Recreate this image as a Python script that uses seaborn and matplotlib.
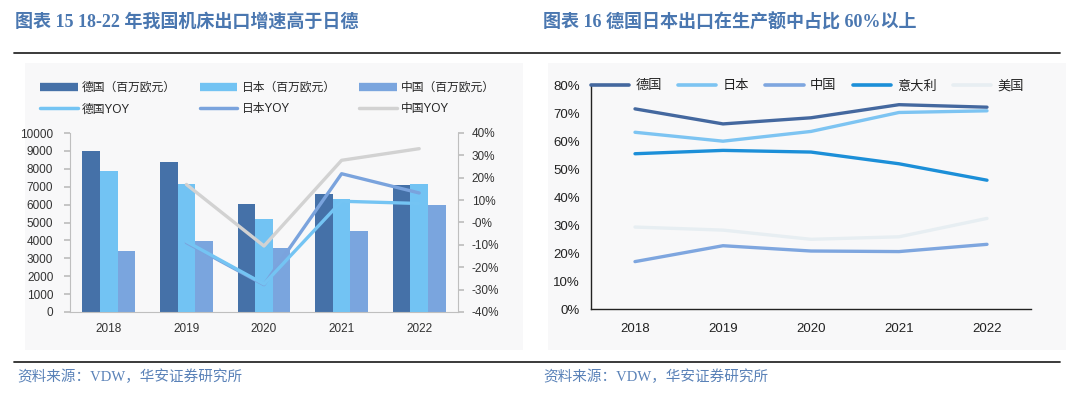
import numpy as np
import pandas as pd
import matplotlib
matplotlib.use("Agg")
import matplotlib.pyplot as plt
from matplotlib.lines import Line2D
from matplotlib.ticker import PercentFormatter, FixedLocator
import seaborn as sns

# ---------------- data ----------------
years = ["2018", "2019", "2020", "2021", "2022"]

# left chart: export value (million EUR)
exp_de = [8990, 8380, 6020, 6580, 7120]
exp_jp = [7880, 7170, 5220, 6340, 7170]
exp_cn = [3400, 3940, 3550, 4520, 6000]
bar_labels = ["德国（百万欧元）", "日本（百万欧元）", "中国（百万欧元）"]

# YOY (2019-2022)
yoy_years = ["2019", "2020", "2021", "2022"]
yoy_de = [-0.085, -0.275, 0.095, 0.085]
yoy_jp = [-0.090, -0.278, 0.218, 0.132]
yoy_cn = [0.170, -0.105, 0.278, 0.330]
line_labels = ["德国YOY", "日本YOY", "中国YOY"]

# right chart: export share of production
share_de = [0.718, 0.664, 0.686, 0.733, 0.724]
share_jp = [0.634, 0.602, 0.637, 0.705, 0.711]
share_cn = [0.170, 0.227, 0.208, 0.206, 0.232]
share_it = [0.557, 0.569, 0.563, 0.521, 0.462]
share_us = [0.294, 0.283, 0.250, 0.259, 0.325]
share_names = ["德国", "日本", "中国", "意大利", "美国"]

title_left = "图表 15 18-22 年我国机床出口增速高于日德"
title_right = "图表 16 德国日本出口在生产额中占比 60%以上"
source_text = "资料来源：VDW，华安证券研究所"

# ---------------- style ----------------
sns.set_theme(style="white")
plt.rcParams["font.family"] = ["Liberation Sans", "Noto Sans CJK SC", "DejaVu Sans"]
plt.rcParams["axes.unicode_minus"] = False

W, H = 1080, 396
fig = plt.figure(figsize=(W / 100, H / 100), dpi=100, facecolor="white")


def rect(x0, y0, x1, y1):
    return [x0 / W, 1 - y1 / H, (x1 - x0) / W, (y1 - y0) / H]


serif_cjk = ["Liberation Serif", "Noto Sans CJK SC"]
title_color = "#4A77B0"

# background boxes
for (x0, x1) in [(25, 523), (548, 1066)]:
    bg = fig.add_axes(rect(x0, 63, x1, 350), zorder=0)
    bg.set_facecolor("#F8F8F9")
    bg.set_xticks([]); bg.set_yticks([])
    for s in bg.spines.values():
        s.set_visible(False)

# separator lines
for y in (53, 362):
    fig.add_artist(Line2D([14 / W, 1060 / W], [1 - y / H, 1 - y / H],
                          color="#2b2b2b", lw=1.3))

fig.text(15 / W, 1 - 22 / H, title_left, fontsize=13, color=title_color,
         family=serif_cjk, fontweight="bold", va="center", ha="left")
fig.text(543 / W, 1 - 22 / H, title_right, fontsize=13, color=title_color,
         family=serif_cjk, fontweight="bold", va="center", ha="left")
fig.text(17 / W, 1 - 377 / H, source_text, fontsize=10.5, color="#5A82B8",
         family=serif_cjk, va="center", ha="left")
fig.text(543 / W, 1 - 377 / H, source_text, fontsize=10.5, color="#5A82B8",
         family=serif_cjk, va="center", ha="left")

# ---------------- left chart ----------------
c_de, c_jp, c_cn = "#4571A8", "#72C3F3", "#7AA5DE"
l_de, l_jp, l_cn = "#74C4F3", "#7AA3DD", "#D2D2D2"
gray = "#BFBFBF"

axL = fig.add_axes(rect(70, 133, 458, 312), zorder=2)
axL.patch.set_alpha(0)
bars = pd.DataFrame({
    "year": years * 3,
    "value": exp_de + exp_jp + exp_cn,
    "series": [bar_labels[0]] * 5 + [bar_labels[1]] * 5 + [bar_labels[2]] * 5,
})
sns.barplot(data=bars, x="year", y="value", hue="series", hue_order=bar_labels,
            palette=[c_de, c_jp, c_cn], width=0.68, gap=0, saturation=1,
            ax=axL, legend=False, edgecolor="none")
# put 日本 bars on top
for p in axL.patches[5:10]:
    p.set_zorder(3)
axL.set_ylim(0, 10000)
axL.set_yticks(np.arange(0, 10001, 1000))
axL.set_xlim(-0.5, len(years) - 0.5)
axL.set_xlabel(""); axL.set_ylabel("")
axL.xaxis.set_minor_locator(FixedLocator(np.arange(-0.5, len(years), 1.0)))
axL.tick_params(axis="x", which="major", length=0, pad=8, labelsize=8.5, labelcolor="#333333")
axL.tick_params(axis="x", which="minor", length=4, color=gray, direction="out")
axL.tick_params(axis="y", length=4, color=gray, direction="out", labelsize=8.5,
                labelcolor="#333333", pad=8)
for s in ("top", "right"):
    axL.spines[s].set_visible(False)
for s in ("left", "bottom"):
    axL.spines[s].set_color(gray)
    axL.spines[s].set_linewidth(0.8)

axR = axL.twinx()
axR.set_zorder(4)
xs = np.arange(len(years))[1:]
yoy = pd.DataFrame({
    "x": np.concatenate([xs, xs, xs]),
    "v": yoy_de + yoy_jp + yoy_cn,
    "s": [line_labels[0]] * 4 + [line_labels[1]] * 4 + [line_labels[2]] * 4,
})
sns.lineplot(data=yoy, x="x", y="v", hue="s", hue_order=[line_labels[2], line_labels[1], line_labels[0]],
             palette={line_labels[0]: l_de, line_labels[1]: l_jp, line_labels[2]: l_cn},
             linewidth=2.4, ax=axR, legend=False)
axR.set_ylim(-0.4, 0.4)
axR.set_yticks(np.arange(-0.4, 0.41, 0.1))
axR.yaxis.set_major_formatter(PercentFormatter(1.0, decimals=0))
axR.set_xlim(-0.5, len(years) - 0.5)
axR.set_xlabel(""); axR.set_ylabel("")
axR.tick_params(axis="y", length=4, color=gray, direction="out", labelsize=8.5,
                labelcolor="#333333", pad=6)
for s in ("top", "left", "bottom"):
    axR.spines[s].set_visible(False)
axR.spines["right"].set_color(gray)
axR.spines["right"].set_linewidth(0.8)

handles = [
    Line2D([], [], color=c_de, lw=6, solid_capstyle="butt"),
    Line2D([], [], color=l_de, lw=2.5),
    Line2D([], [], color=c_jp, lw=6, solid_capstyle="butt"),
    Line2D([], [], color=l_jp, lw=2.5),
    Line2D([], [], color=c_cn, lw=6, solid_capstyle="butt"),
    Line2D([], [], color=l_cn, lw=2.5),
]
labels = [bar_labels[0], line_labels[0], bar_labels[1], line_labels[1], bar_labels[2], line_labels[2]]
fig.legend(handles, labels, ncol=3, loc="upper left",
           bbox_to_anchor=(40 / W, 1 - 82 / H), frameon=False, fontsize=8.5,
           handlelength=3.2, handletextpad=0.35, columnspacing=2.0,
           labelspacing=0.8, borderaxespad=0, borderpad=0)

# ---------------- right chart ----------------
pal_r = {"德国": "#44689F", "日本": "#7DC4F2", "中国": "#7EA6DF",
         "意大利": "#1C8FD8", "美国": "#E7EEF2"}
ax2 = fig.add_axes(rect(591, 86, 1031, 309), zorder=2)
ax2.patch.set_alpha(0)
share = pd.DataFrame({
    "year": years * 5,
    "share": share_de + share_jp + share_cn + share_it + share_us,
    "country": sum([[n] * 5 for n in share_names], []),
})
sns.lineplot(data=share, x="year", y="share", hue="country", hue_order=share_names,
             palette=pal_r, linewidth=2.4, ax=ax2, sort=False)
ax2.set_ylim(0, 0.8)
ax2.set_yticks(np.arange(0, 0.81, 0.1))
ax2.yaxis.set_major_formatter(PercentFormatter(1.0, decimals=0))
ax2.set_xlim(-0.5, len(years) - 0.5)
ax2.set_xlabel(""); ax2.set_ylabel("")
ax2.xaxis.set_minor_locator(FixedLocator(np.arange(-0.5, len(years), 1.0)))
ax2.tick_params(axis="x", which="major", length=0, pad=10, labelsize=9.5, labelcolor="#222222")
ax2.tick_params(axis="x", which="minor", length=4, color="#222222", direction="in", width=0.9)
ax2.tick_params(axis="y", length=6, color="#222222", direction="inout", labelsize=9.5,
                labelcolor="#222222", pad=5, width=0.9)
for s in ("top", "right"):
    ax2.spines[s].set_visible(False)
for s in ("left", "bottom"):
    ax2.spines[s].set_color("#222222")
    ax2.spines[s].set_linewidth(1.0)
leg = ax2.legend(loc="center left", bbox_to_anchor=(0.0, 1.0), ncol=5, frameon=False,
                 fontsize=9.5, handlelength=2.9, handletextpad=0.45, columnspacing=1.25,
                 borderaxespad=0, borderpad=0)
for t in leg.get_texts():
    t.set_color("#222222")
for h in leg.legend_handles:
    h.set_linewidth(2.6)

fig.savefig("out.png", dpi=100, facecolor="white")
